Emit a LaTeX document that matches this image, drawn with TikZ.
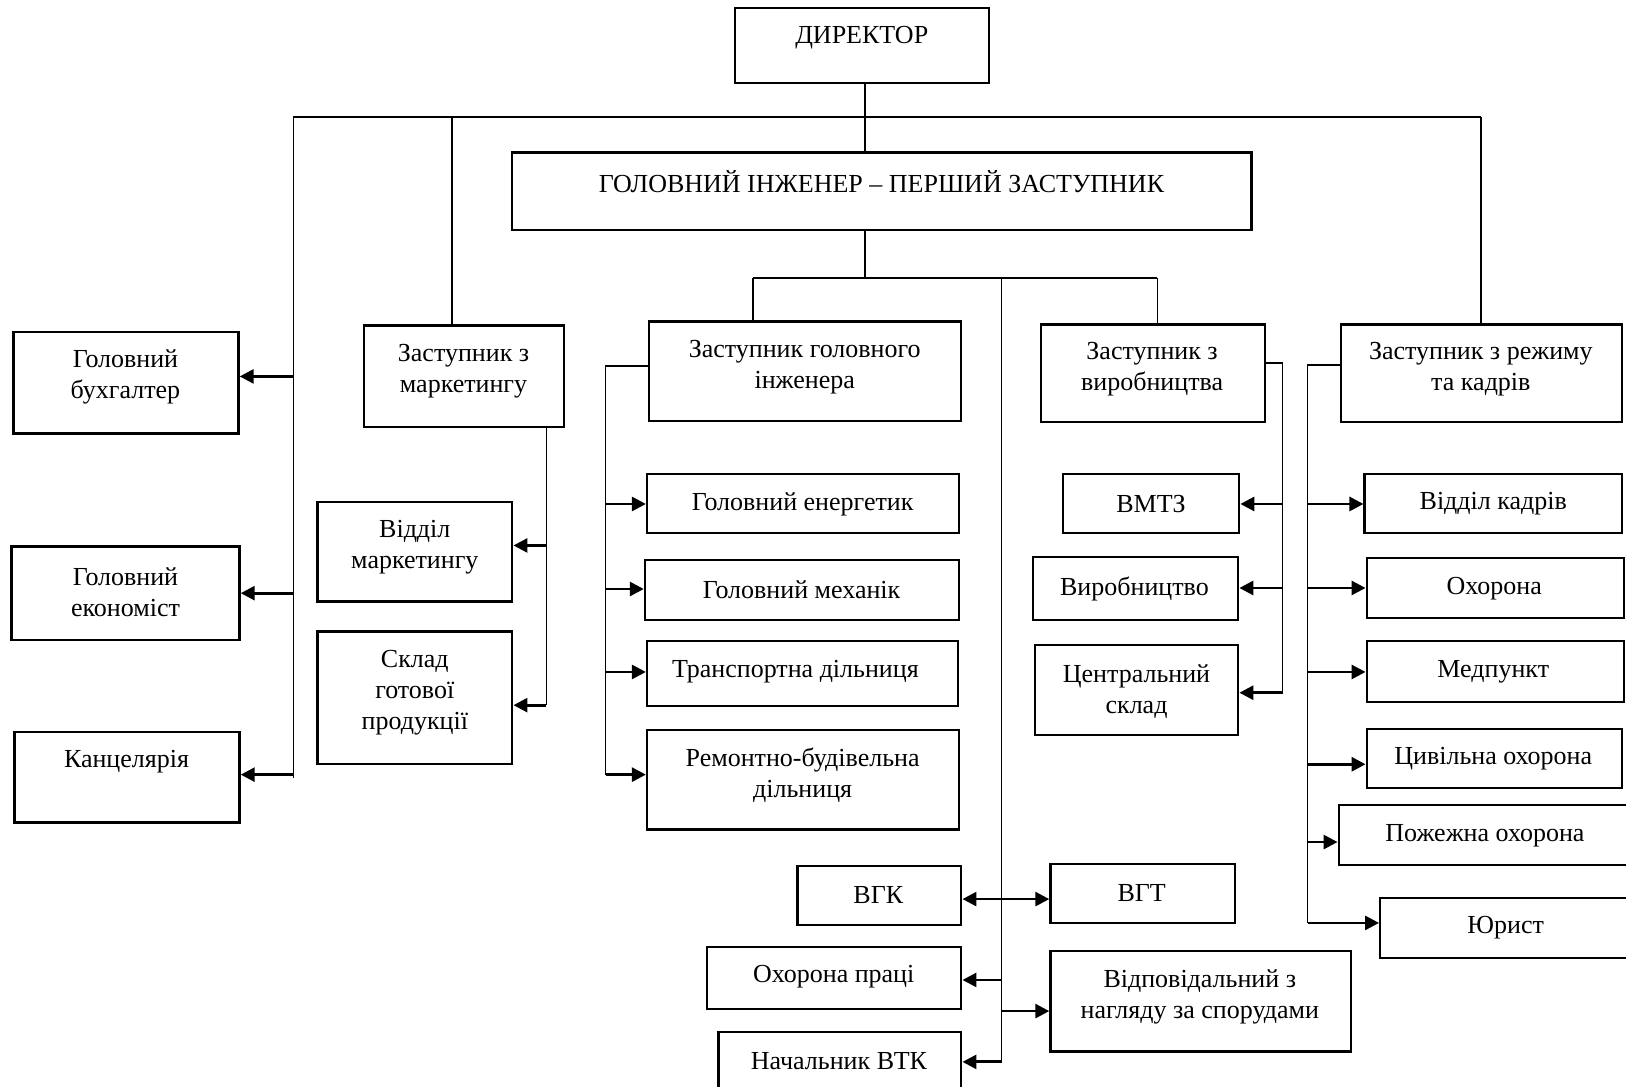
\documentclass[tikz,border=0pt]{standalone}
\usepackage{fontspec}
\setmainfont{Liberation Serif}
\usetikzlibrary{fit,arrows.meta}
\newcommand{\bx}[8]{\node[box, fit={(#2,#3) (#4,#5)}] (#1) {};\node[txt] (#1t) at (#6,#7) {#8};}
\begin{document}
\begin{tikzpicture}[x=1.037pt,y=-1.037pt,
  box/.style={draw, line width=2.4pt, inner sep=0pt},
  txt/.style={align=center, font=\fontsize{26}{31}\selectfont, inner sep=0pt, yshift=-2pt},
  ln/.style={line width=1.4pt},
  arr/.style={line width=2.8pt, -{Triangle[length=14pt,width=14pt]}}]
\useasboundingbox (0,0) rectangle (1568,1048);
% boxes
\bx{dir}{709}{8}{954}{80}{831}{34}{ДИРЕКТОР}
\bx{gi}{494}{147}{1207}{222}{850}{173}{ГОЛОВНИЙ ІНЖЕНЕР – ПЕРШИЙ ЗАСТУПНИК}
\bx{gb}{13}{320}{230}{418}{121}{362}{Головний\\бухгалтер}
\bx{ge}{11}{527}{231}{617}{121}{569}{Головний\\економіст}
\bx{kn}{14}{706}{231}{793}{122}{733}{Канцелярія}
\bx{zm}{351}{314}{544}{412}{447}{356}{Заступник з\\маркетингу}
\bx{vm}{306}{484}{494}{580}{400}{526}{Відділ\\маркетингу}
\bx{sk}{306}{609}{494}{737}{400}{666}{Склад\\готової\\продукції}
\bx{zgi}{626}{310}{927}{406}{776}{352}{Заступник головного\\інженера}
\bx{gen}{624}{457}{925}{514}{774}{484}{Головний енергетик}
\bx{gm}{622}{540}{925}{598}{773}{567}{Головний механік}
\bx{td}{624}{618}{924}{681}{767}{646}{Транспортна дільниця}
\bx{rb}{624}{704}{925}{800}{774}{746}{Ремонтно-будівельна\\дільниця}
\bx{zv}{1004}{313}{1220}{407}{1111}{354}{Заступник з\\виробництва}
\bx{vmtz}{1025}{457}{1195}{514}{1110}{484}{ВМТЗ}
\bx{vyr}{996}{537}{1194}{598}{1094}{566}{Виробництво}
\bx{cs}{998}{622}{1194}{709}{1096}{665}{Центральний\\склад}
\bx{zr}{1293}{313}{1564}{407}{1428}{354}{Заступник з режиму\\та кадрів}
\bx{vk}{1316}{457}{1564}{514}{1440}{484}{Відділ кадрів}
\bx{oh}{1318}{538}{1566}{596}{1441}{566}{Охорона}
\bx{mp}{1318}{618}{1566}{677}{1440}{646}{Медпункт}
\bx{co}{1318}{703}{1564}{760}{1440}{730}{Цивільна охорона}
\bx{po}{1291}{776}{1572}{834}{1432}{804}{Пожежна охорона}
\bx{ur}{1331}{866}{1572}{924}{1452}{893}{Юрист}
\bx{vgk}{769}{835}{927}{892}{847}{861}{ВГК}
\bx{vgt}{1013}{833}{1191}{890}{1101}{859}{ВГТ}
\bx{op}{682}{913}{927}{973}{804}{940}{Охорона праці}
\bx{vn}{1013}{917}{1303}{1014}{1157}{959}{Відповідальний з\\нагляду за спорудами}
\bx{vtk}{693}{995}{927}{1062}{809}{1021}{Начальник ВТК}
% top structure
\coordinate (t1) at (283,113); \coordinate (t2) at (436,113);
\coordinate (t3) at (834,113); \coordinate (t4) at (1428,113);
\draw[ln] (t1) -- (t4);
\draw[ln] (dir.south -| t3) -- (gi.north -| t3);
\coordinate (g1) at (834,268); \coordinate (g2) at (726,268);
\coordinate (g3) at (966,268); \coordinate (g4) at (1116,268);
\draw[ln] (gi.south -| g1) -- (g1);
\draw[ln] (g2) -- (g4);
\draw[ln] (g2) -- (g2 |- zgi.north);
\draw[ln] (g4) -- (g4 |- zv.north);
\coordinate (cb) at (966,1024);
\draw[ln] (g3) -- (cb);
% left bus
\coordinate (lb) at (283,750);
\draw[ln] (t1) -- (lb);
\coordinate (a1) at (283,363); \coordinate (a2) at (283,572); \coordinate (a3) at (283,747);
\draw[arr] (a1) -- (gb.east |- a1);
\draw[arr] (a2) -- (ge.east |- a2);
\draw[arr] (a3) -- (kn.east |- a3);
% marketing
\draw[ln] (t2) -- (t2 |- zm.north);
\coordinate (m1) at (527,526); \coordinate (m2) at (527,680);
\draw[ln] (zm.south -| m2) -- (m2);
\draw[arr] (m1) -- (vm.east |- m1);
\draw[arr] (m2) -- (sk.east |- m2);
% deputy chief engineer
\coordinate (e0) at (584,353); \coordinate (e1) at (584,486); \coordinate (e2) at (584,568);
\coordinate (e3) at (584,648); \coordinate (e4) at (584,747);
\draw[ln] (zgi.west |- e0) -- (e0) -- (e4);
\draw[arr] (e1) -- (gen.west |- e1);
\draw[arr] (e2) -- (gm.west |- e2);
\draw[arr] (e3) -- (td.west |- e3);
\draw[arr] (e4) -- (rb.west |- e4);
% production
\coordinate (p0) at (1237,350); \coordinate (p1) at (1237,486);
\coordinate (p2) at (1237,567); \coordinate (p3) at (1237,668);
\draw[ln] (zv.east |- p0) -- (p0) -- (p3);
\draw[arr] (p1) -- (vmtz.east |- p1);
\draw[arr] (p2) -- (vyr.east |- p2);
\draw[arr] (p3) -- (cs.east |- p3);
% regime and staff
\draw[ln] (t4) -- (t4 |- zr.north);
\coordinate (r0) at (1261,352); \coordinate (r1) at (1261,486); \coordinate (r2) at (1261,567);
\coordinate (r3) at (1261,648); \coordinate (r4) at (1261,737); \coordinate (r5) at (1261,812);
\coordinate (r6) at (1261,890);
\draw[ln] (zr.west |- r0) -- (r0) -- (r6);
\draw[arr] (r1) -- (vk.west |- r1);
\draw[arr] (r2) -- (oh.west |- r2);
\draw[arr] (r3) -- (mp.west |- r3);
\draw[arr] (r4) -- (co.west |- r4);
\draw[arr] (r5) -- (po.west |- r5);
\draw[arr] (r6) -- (ur.west |- r6);
% centre
\coordinate (c1) at (966,867); \coordinate (c2) at (966,945); \coordinate (c3) at (966,975);
\draw[arr] (c1) -- (vgk.east |- c1);
\draw[arr] (c1) -- (vgt.west |- c1);
\draw[arr] (c2) -- (op.east |- c2);
\draw[arr] (c3) -- (vn.west |- c3);
\draw[arr] (cb) -- (vtk.east |- cb);
\end{tikzpicture}
\end{document}
